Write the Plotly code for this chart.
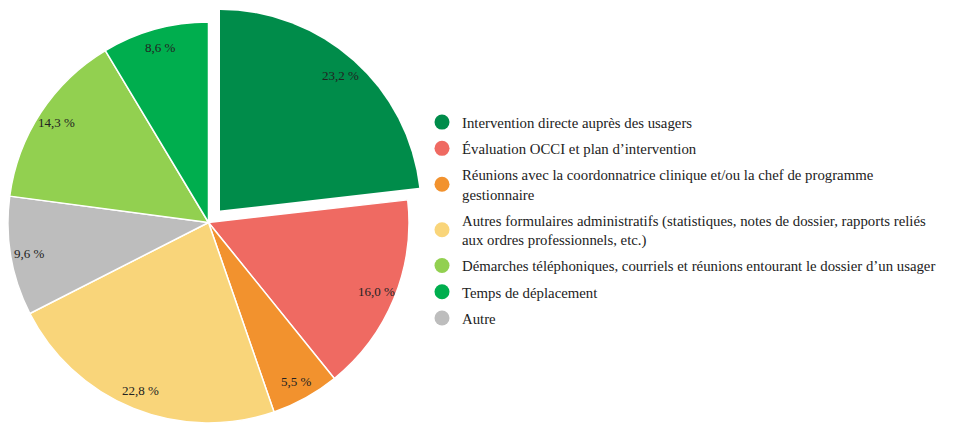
import math
import plotly.graph_objects as go

# Data (pie order, clockwise from 12 o'clock)
pie_labels = [
    "Intervention directe auprès des usagers",
    "Évaluation OCCI et plan d’intervention",
    "Réunions avec la coordonnatrice clinique et/ou la chef de programme<br>gestionnaire",
    "Autres formulaires administratifs (statistiques, notes de dossier, rapports reliés<br>aux ordres professionnels, etc.)",
    "Autre",
    "Démarches téléphoniques, courriels et réunions entourant le dossier d’un usager",
    "Temps de déplacement",
]
pie_values = [23.2, 16.0, 5.5, 22.8, 9.6, 14.3, 8.6]
pie_colors = ["#008C4A", "#EF6A62", "#F2922E", "#F9D57A", "#BDBDBD", "#92D050", "#00AE4E"]

# Legend order
legend_order = [0, 1, 2, 3, 5, 6, 4]

W, H = 975, 424
FONT = '"Liberation Serif", "Times New Roman", Times, serif'

def fmt(v):
    return f"{v:.1f}".replace(".", ",") + " %"

texts = [fmt(v) for v in pie_values]

def dom(cx, cy, r):
    return dict(x=[max(0, (cx - r) / W), min(1, (cx + r) / W)],
                y=[max(0, (H - cy - r) / H), min(1, (H - cy + r) / H)])

R = 200.5
main_center = (200.5, 214.5)
pulled_center = (212, 202.5)
LABEL_FRAC = 0.905

fig = go.Figure()

# Main pie (first slice hidden, drawn separately as pulled slice)
main_colors = ["rgba(0,0,0,0)"] + pie_colors[1:]
fig.add_trace(go.Pie(
    values=pie_values, labels=pie_labels, sort=False, direction="clockwise", rotation=0,
    marker=dict(colors=main_colors, line=dict(color="white", width=[0] + [1.5] * 6)),
    textinfo="none", domain=dom(main_center[0], main_center[1], R),
    showlegend=False, hoverinfo="skip",
))

# Pulled slice
pulled_colors = [pie_colors[0]] + ["rgba(0,0,0,0)"] * 6
fig.add_trace(go.Pie(
    values=pie_values, labels=pie_labels, sort=False, direction="clockwise", rotation=0,
    marker=dict(colors=pulled_colors, line=dict(width=0)),
    textinfo="none", domain=dom(pulled_center[0], pulled_center[1], R),
    showlegend=False, hoverinfo="skip",
))

# Slice labels near the rim, placed at each slice's mid-angle
total = sum(pie_values)
cum = 0.0
for i, v in enumerate(pie_values):
    mid = (cum + v / 2) / total * 2 * math.pi
    cum += v
    cx, cy = pulled_center if i == 0 else main_center
    px = cx + LABEL_FRAC * R * math.sin(mid)
    py = cy - LABEL_FRAC * R * math.cos(mid)
    fig.add_annotation(
        x=px / W, y=(H - py) / H, xref="paper", yref="paper",
        text=texts[i], showarrow=False, xanchor="center", yanchor="middle",
        font=dict(family=FONT, size=13, color="#222222"),
    )

# Legend entries
for i in legend_order:
    fig.add_trace(go.Scatter(
        x=[None], y=[None], mode="markers", name=pie_labels[i], legendgroup=f"g{i}",
        marker=dict(color=pie_colors[i], size=15, symbol="circle"),
        showlegend=True, hoverinfo="skip",
    ))

fig.update_layout(
    width=W, height=H,
    margin=dict(l=0, r=0, t=0, b=0),
    paper_bgcolor="white", plot_bgcolor="white",
    xaxis=dict(visible=False), yaxis=dict(visible=False),
    legend=dict(
        x=414 / W, y=(H - 98) / H, xanchor="left", yanchor="top",
        font=dict(family=FONT, size=14.8, color="#222222"),
        bgcolor="rgba(0,0,0,0)", valign="middle", tracegroupgap=4,
        itemclick=False, itemdoubleclick=False,
    ),
    font=dict(family=FONT),
)

fig.write_html("out.html")
